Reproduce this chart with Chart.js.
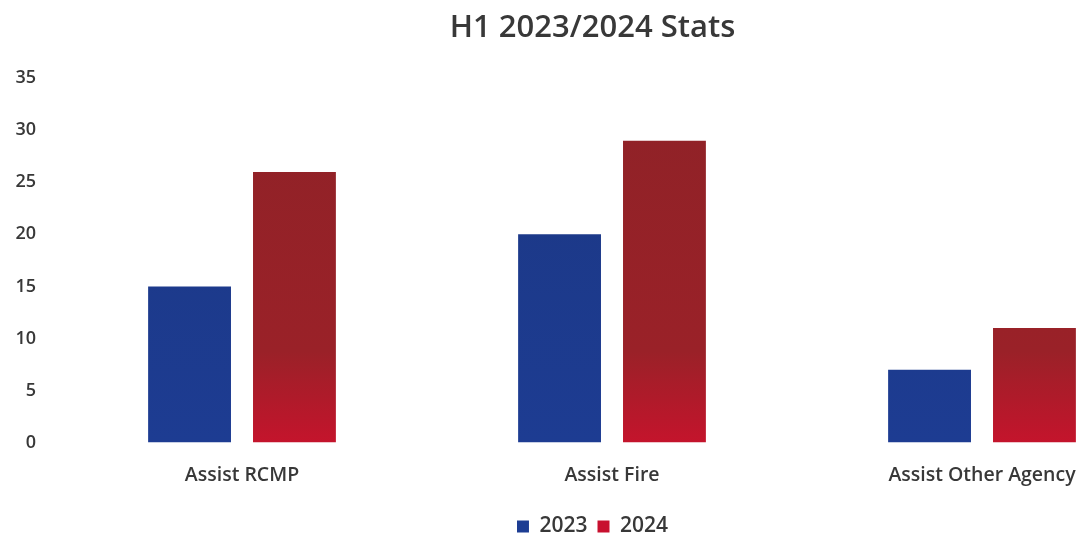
<!DOCTYPE html>
<html>
<head>
<meta charset="utf-8">
<script src="https://cdn.jsdelivr.net/npm/chart.js@4"></script>
<style>
html,body{margin:0;padding:0;background:#fff;overflow:hidden;width:1080px;height:533px;}
#wrap{position:absolute;left:0;top:0;width:1185px;height:533px;}
</style>
</head>
<body>
<div id="wrap"><canvas id="c"></canvas></div>
<script>
const categories = ["Assist RCMP", "Assist Fire", "Assist Other Agency"];
const values2023 = [15, 20, 7];
const values2024 = [26, 29, 11];
const seriesLabels = ["2023", "2024"];
const yTicks = [0, 5, 10, 15, 20, 25, 30, 35];

const FONT = "'Open Sans', 'Lato', sans-serif";
const TXT = '#383838';

function grad(ctx, stops) {
  const chart = ctx.chart;
  const area = chart.chartArea;
  if (!area) return stops[0][1];
  const g = chart.ctx.createLinearGradient(0, area.top, 0, area.bottom);
  stops.forEach(s => g.addColorStop(s[0], s[1]));
  return g;
}

new Chart(document.getElementById('c'), {
  type: 'bar',
  data: {
    labels: categories,
    datasets: [
      { label: seriesLabels[0], data: values2023,
        backgroundColor: (ctx) => grad(ctx, [[0, '#1c3783'], [1, '#1d3c92']]),
        categoryPercentage: 0.567, barPercentage: 0.79 },
      { label: seriesLabels[1], data: values2024,
        backgroundColor: (ctx) => grad(ctx, [[0, '#8e2227'], [0.75, '#9a2128'], [1, '#c4142c']]),
        categoryPercentage: 0.567, barPercentage: 0.79 }
    ]
  },
  options: {
    responsive: true,
    maintainAspectRatio: false,
    animation: false,
    layout: { padding: { top: 10, left: 0, right: 0, bottom: -14 } },
    plugins: {
      title: { display: true, text: 'H1 2023/2024 Stats', color: TXT,
        font: { family: FONT, size: 31, weight: 600 }, padding: { top: 0, bottom: 31 } },
      legend: { position: 'bottom',
        labels: { color: TXT, boxWidth: 12, boxHeight: 12, padding: 10,
          font: { family: FONT, size: 21, weight: 600 },
          generateLabels: (chart) => chart.data.datasets.map((d, i) => ({
            text: d.label, fillStyle: i === 0 ? '#1d3d93' : '#c8102e', strokeStyle: 'transparent',
            lineWidth: 0, datasetIndex: i, fontColor: TXT })) } },
      tooltip: { enabled: false }
    },
    scales: {
      x: {
        afterFit: (s) => { s.height = s.height - 2; },
        grid: { display: false, drawTicks: false },
        border: { display: false },
        ticks: { color: TXT, padding: 21, font: { family: FONT, size: 19.5, weight: 600 } }
      },
      y: {
        min: 0, max: 35,
        afterBuildTicks: (s) => { s.ticks = yTicks.map(v => ({ value: v })); },
        afterFit: (s) => { s.width = 57; },
        grid: { display: false, drawTicks: false },
        border: { display: false },
        ticks: { color: TXT, padding: 21, font: { family: FONT, size: 18, weight: 600 } }
      },
      yRight: {
        position: 'right', min: 0, max: 35,
        afterFit: (s) => { s.width = 18; },
        grid: { display: false, drawTicks: false },
        border: { display: false },
        ticks: { display: false }
      }
    }
  }
});
</script>
</body>
</html>
